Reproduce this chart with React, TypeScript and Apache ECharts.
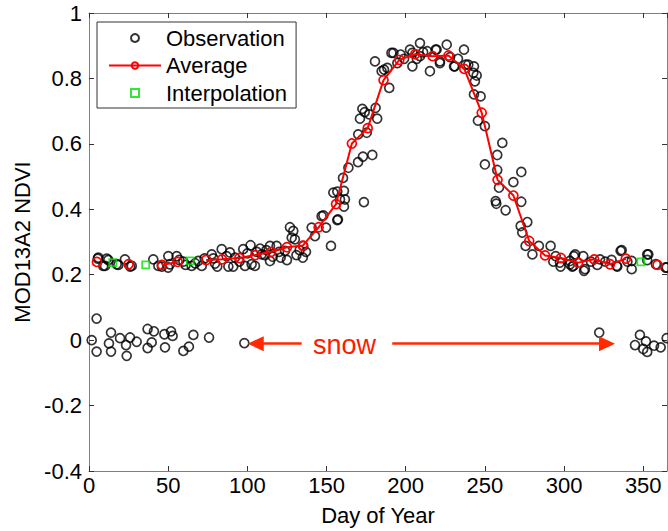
import React, { useEffect, useRef } from "react";
import * as echarts from "echarts";

const FONT = "Liberation Sans, Arial, Helvetica, sans-serif";

// Observations (day of year, NDVI)
const obsDays = [
  5.5, 5.9, 9, 10.1, 11.2, 12.2, 17.5, 18.5, 22.7, 27, 26, 40.6, 43.8, 46, 50.1, 50, 51.1, 55.4, 57, 59.6,
  61, 64.8, 67, 69, 71.2, 73, 77.5, 78.5, 79.6, 81, 83.8, 86.9, 88, 89, 91.1, 92.2, 95, 97.4, 98.5, 100,
  102, 102.7, 104.8, 106, 108, 109, 111.1, 112, 114.3, 114.3, 116, 118.5, 120, 121, 123.8, 125, 126.9, 128, 129, 130,
  131, 133, 135, 135.3, 137, 140.6, 142.7, 146.9, 148, 149.7, 152.8, 154.3, 156.8, 156.8, 157.2, 158.5, 160.4, 161, 161, 161.6,
  163.8, 169.9, 173, 178.9, 173.6, 170, 171.1, 172.6, 174.1, 175.4, 181, 182, 177, 180.6, 184.8, 186.3, 188.4, 189.6, 191, 192.2,
  194.7, 196.8, 199, 202.7, 204.2, 204.2, 207, 209, 209, 211, 213.6, 215.3, 218.9, 219.5, 221.6, 221.6, 225.9, 228, 230.5, 231,
  233, 236.8, 237.9, 239.5, 242.7, 243.1, 243.7, 244.8, 243.1, 247.3, 245.6, 250, 250, 257.8, 261, 257.8, 258.9, 256.8, 257.2, 263.1,
  268, 273, 273, 276.8, 272.6, 273.6, 275.7, 280, 284.1, 291.5, 294.7, 293.2, 297.8, 297.4, 303.7, 303.7, 305.2, 305.8, 306.2, 307,
  312.1, 312.6, 313.2, 317, 321, 322.7, 326, 330, 333.2, 333.6, 335.7, 336.4, 340, 342.7, 342.7, 352.5, 352.5, 353.2, 358, 364.8,
  364,
  1.7, 4.8, 4.8, 12.6, 13.9, 13.9, 19.6, 23.4, 23.8, 25.9, 30.1, 37, 37, 39.6, 41, 47.6, 48, 51.8, 52.8, 59.6,
  63.1, 65.9, 75.8, 98.1, 322.2, 344.8, 347.9, 350, 351.7, 352.5, 356.8, 361, 364.8,
];
const obsVals = [
  0.249, 0.252, 0.227, 0.227, 0.249, 0.245, 0.232, 0.23, 0.247, 0.227, 0.225, 0.247, 0.227, 0.225, 0.257, 0.222, 0.232, 0.257, 0.245, 0.24,
  0.23, 0.227, 0.235, 0.242, 0.227, 0.25, 0.262, 0.25, 0.234, 0.225, 0.278, 0.257, 0.225, 0.268, 0.225, 0.252, 0.24, 0.278, 0.227, 0.265,
  0.29, 0.232, 0.227, 0.27, 0.28, 0.262, 0.26, 0.275, 0.288, 0.242, 0.255, 0.288, 0.27, 0.252, 0.273, 0.245, 0.345, 0.313, 0.334, 0.308,
  0.26, 0.275, 0.252, 0.288, 0.27, 0.344, 0.318, 0.379, 0.381, 0.344, 0.288, 0.451, 0.367, 0.454, 0.369, 0.43, 0.496, 0.456, 0.408, 0.43,
  0.527, 0.544, 0.561, 0.566, 0.422, 0.629, 0.677, 0.707, 0.697, 0.634, 0.71, 0.677, 0.69, 0.852, 0.822, 0.827, 0.832, 0.771, 0.878, 0.878,
  0.847, 0.873, 0.86, 0.888, 0.878, 0.837, 0.86, 0.908, 0.868, 0.88, 0.883, 0.822, 0.888, 0.888, 0.852, 0.847, 0.903, 0.865, 0.837, 0.837,
  0.86, 0.888, 0.842, 0.842, 0.817, 0.837, 0.791, 0.809, 0.751, 0.745, 0.671, 0.654, 0.537, 0.566, 0.603, 0.52, 0.466, 0.425, 0.417, 0.397,
  0.483, 0.514, 0.423, 0.361, 0.349, 0.329, 0.288, 0.262, 0.288, 0.288, 0.257, 0.24, 0.225, 0.237, 0.242, 0.232, 0.225, 0.227, 0.257, 0.262,
  0.257, 0.212, 0.217, 0.24, 0.23, 0.247, 0.24, 0.245, 0.227, 0.225, 0.273, 0.275, 0.24, 0.242, 0.217, 0.262, 0.245, 0.262, 0.232, 0.222,
  0.222,
  0.0, 0.066, -0.035, -0.01, 0.023, -0.035, 0.006, -0.015, -0.048, 0.008, -0.005, 0.034, -0.024, -0.007, 0.027, 0.018, -0.022, 0.027, 0.013, -0.033,
  -0.02, 0.016, 0.008, -0.009, 0.023, -0.015, 0.016, -0.027, -0.004, -0.036, -0.017, -0.022, 0.006,
];

// Average (null where the value was interpolated)
const avgDays = [
  5, 15, 25, 35, 46, 56, 65, 74, 84, 95, 105, 115, 125, 135, 145, 156, 166, 176, 186, 196,
  206, 217, 227, 237, 248, 258, 268, 278, 288, 298, 309, 319, 329, 339, 349, 359,
];
const avgVals: (number | null)[] = [
  0.239, null, 0.232, null, 0.23, 0.239, null, 0.245, 0.247, 0.251, 0.26, 0.27, 0.284, 0.289, 0.345, 0.416, 0.601, 0.648, 0.795, 0.857,
  0.874, 0.868, 0.87, 0.829, 0.695, 0.49, 0.442, 0.303, 0.259, 0.251, 0.237, 0.247, 0.232, 0.249, null, 0.23,
];

// Interpolated values
const interpDays = [15, 35.8, 64, 348.5];
const interpVals = [0.237, 0.23, 0.242, 0.239];

// Axis ticks
const xTicks = { min: 0, max: 365, interval: 50 };
const yTicks = { min: -0.4, max: 1, interval: 0.2 };

const labels = {
  xName: "Day of Year",
  yName: "MOD13A2 NDVI",
  snow: "snow",
  obs: "Observation",
  avg: "Average",
  interp: "Interpolation",
};

// Snow arrows (data coords)
const snowY = -0.011;
const leftArrow = { from: 134.3, to: 105.3 };
const rightArrow = { from: 191.5, to: 327.1 };

export default function App() {
  const ref = useRef<HTMLDivElement>(null);
  useEffect(() => {
    if (!ref.current) return;
    const chart = echarts.init(ref.current, undefined, { renderer: "svg" });
    const axisLineColor = "#7f7f7f";
    const tickColor = "#333";
    const axisCommon = {
      axisLine: { show: true, onZero: false, lineStyle: { color: axisLineColor, width: 1 } },
      axisTick: { show: true, inside: true, length: 5, lineStyle: { color: tickColor, width: 1 } },
      splitLine: { show: false },
    };
    chart.setOption({
      animation: false,
      backgroundColor: "#fff",
      textStyle: { fontFamily: FONT },
      grid: { left: 89, right: 1, top: 13, bottom: 59, containLabel: false },
      legend: {
        data: [
          { name: labels.obs },
          { name: labels.avg },
          { name: labels.interp, icon: "path://M0,0L7,0L7,7L0,7Z" },
        ],
        orient: "vertical",
        left: 97,
        top: 22,
        padding: [5, 9, 4, 11],
        itemGap: 5.5,
        itemWidth: 52,
        itemHeight: 8,
        symbolKeepAspect: true,
        borderColor: "#333",
        borderWidth: 1,
        backgroundColor: "#fff",
        textStyle: { fontSize: 22, color: "#000", fontFamily: FONT },
        selectedMode: false,
      },
      xAxis: [
        {
          type: "value",
          ...xTicks,
          ...axisCommon,
          name: labels.xName,
          nameLocation: "middle",
          nameGap: 33,
          nameTextStyle: { fontSize: 22, color: "#000", fontFamily: FONT },
          axisLabel: { fontSize: 22, color: "#000", margin: 3, showMaxLabel: false, fontFamily: FONT },
        },
        {
          type: "value",
          position: "top",
          ...xTicks,
          ...axisCommon,
          axisLabel: { show: false },
        },
      ],
      yAxis: [
        {
          type: "value",
          ...yTicks,
          ...axisCommon,
          name: labels.yName,
          nameLocation: "middle",
          nameGap: 56,
          nameTextStyle: { fontSize: 22, color: "#000", fontFamily: FONT },
          axisLabel: { fontSize: 22, color: "#000", margin: 7, fontFamily: FONT },
        },
        {
          type: "value",
          position: "right",
          ...yTicks,
          ...axisCommon,
          axisLabel: { show: false },
        },
      ],
      graphic: [
        {
          type: "text",
          left: 313,
          top: 331,
          silent: true,
          style: { text: labels.snow, fontSize: 27, fill: "#ff1a00", fontFamily: FONT },
        },
      ],
      series: [
        {
          name: labels.obs,
          type: "scatter",
          symbol: "circle",
          symbolSize: 9,
          itemStyle: { color: "rgba(0,0,0,0)", borderColor: "#000", borderWidth: 1.7 },
          data: obsDays.map((d, i) => [d, obsVals[i]]),
          z: 2,
        },
        {
          name: labels.avg,
          type: "line",
          symbol: "circle",
          symbolSize: 9,
          showAllSymbol: true,
          connectNulls: false,
          lineStyle: { color: "#ff0000", width: 2 },
          itemStyle: { color: "rgba(0,0,0,0)", borderColor: "#ff0000", borderWidth: 1.7 },
          data: avgDays.map((d, i) => [d, avgVals[i] === null ? "-" : avgVals[i]]),
          z: 3,
        },
        {
          name: labels.interp,
          type: "scatter",
          symbol: "rect",
          symbolSize: 7,
          itemStyle: { color: "rgba(0,0,0,0)", borderColor: "#00e000", borderWidth: 1.7 },
          data: interpDays.map((d, i) => [d, interpVals[i]]),
          z: 4,
          markLine: {
            silent: true,
            symbol: ["none", "triangle"],
            symbolSize: [15, 16],
            label: { show: false },
            lineStyle: { color: "#ff2a00", width: 2.5, type: "solid" },
            itemStyle: { color: "#ff2a00" },
            data: [
              [{ coord: [leftArrow.from, snowY] }, { coord: [leftArrow.to, snowY] }],
              [{ coord: [rightArrow.from, snowY] }, { coord: [rightArrow.to, snowY] }],
            ],
          },
        },
      ],
    });
    return () => chart.dispose();
  }, []);
  return (
    <div
      ref={ref}
      style={{ position: "fixed", left: 0, top: 0, width: 668, height: 531 }}
    />
  );
}
